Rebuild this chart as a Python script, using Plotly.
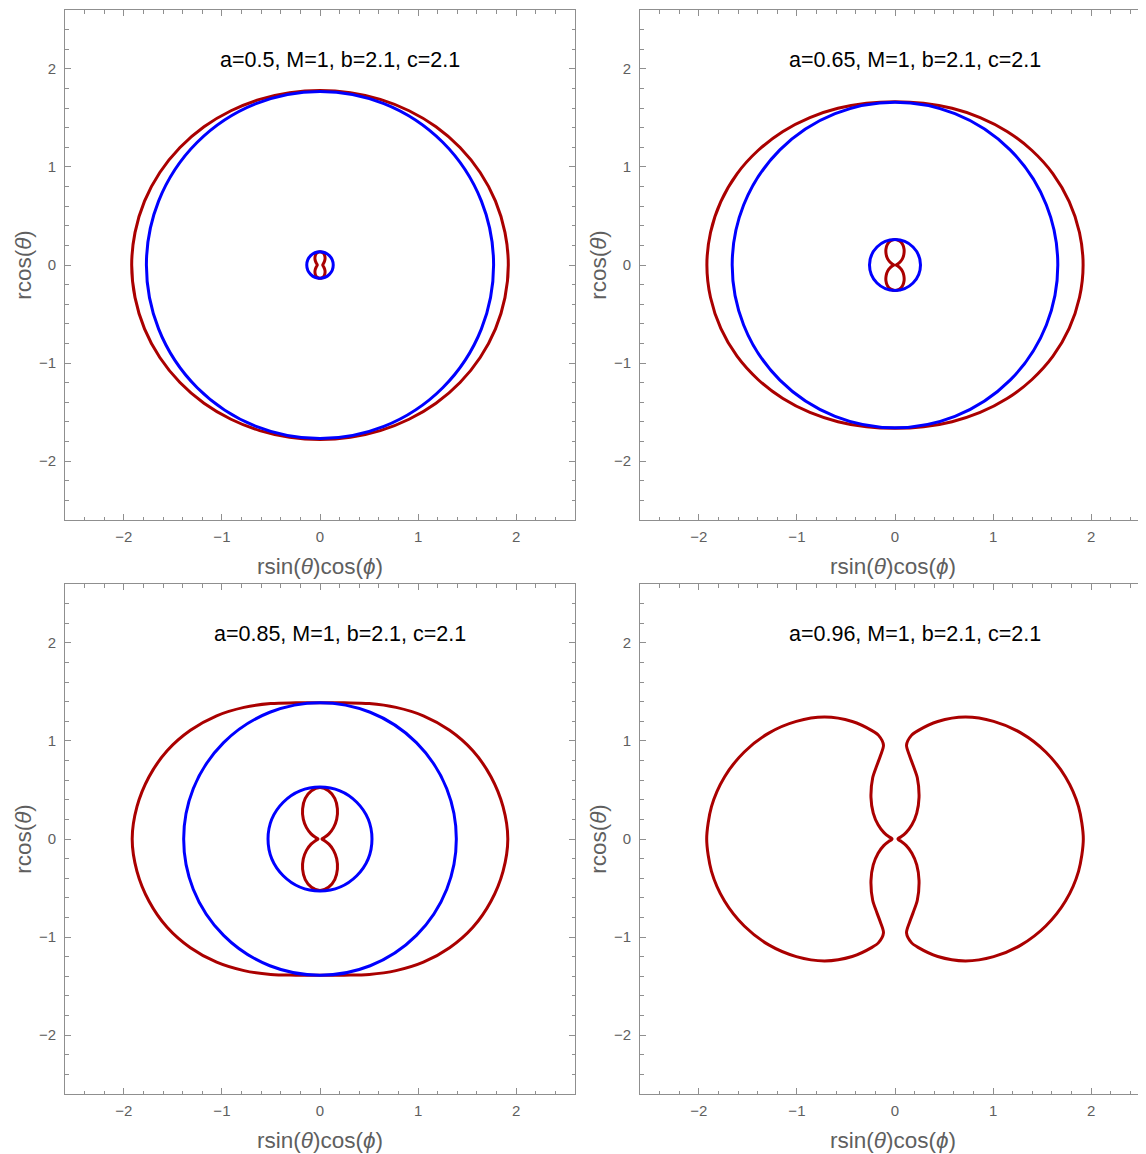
import numpy as np
import plotly.graph_objects as go

# ---------------- data ----------------
TITLES = ["a=0.5, M=1, b=2.1, c=2.1", "a=0.65, M=1, b=2.1, c=2.1",
          "a=0.85, M=1, b=2.1, c=2.1", "a=0.96, M=1, b=2.1, c=2.1"]

# polar angle theta (deg, measured from the +vertical axis), upper-right quadrant
THETA_DEG = [0, 10, 20, 30, 40, 50, 60, 70, 80, 90]

# ergosurface radii r(theta)
ERGO_OUTER_1 = [1.78, 1.784, 1.797, 1.816, 1.84, 1.864, 1.886, 1.904, 1.915, 1.92]
ERGO_INNER_1 = [0.135, 0.13, 0.12, 0.10, 0.08, 0.06, 0.045, 0.035, 0.03, 0.028]
ERGO_OUTER_2 = [1.665, 1.675, 1.70, 1.736, 1.778, 1.82, 1.86, 1.89, 1.91, 1.918]
ERGO_INNER_2 = [0.26, 0.25, 0.225, 0.185, 0.14, 0.10, 0.06, 0.03, 0.015, 0.01]
ERGO_OUTER_3 = [1.39, 1.41, 1.47, 1.55, 1.64, 1.725, 1.80, 1.855, 1.895, 1.915]
ERGO_INNER_3 = [0.525, 0.50, 0.44, 0.355, 0.265, 0.18, 0.105, 0.05, 0.025, 0.02]

# a=0.96: inner and outer sheets join near the pole
THETA_4_OUTER = [7, 9, 12, 20, 30, 40, 50, 60, 70, 80, 90]
ERGO_OUTER_4 = [0.965, 1.07, 1.13, 1.275, 1.435, 1.565, 1.68, 1.775, 1.85, 1.90, 1.92]
THETA_4_INNER = [7, 10, 14, 20, 30, 40, 50, 60, 70, 80, 90]
ERGO_INNER_4 = [0.965, 0.86, 0.77, 0.665, 0.49, 0.345, 0.225, 0.13, 0.065, 0.035, 0.03]

# horizon radii (outer, inner); None = no horizon
HORIZON_OUTER = [1.77, 1.66, 1.39, None]
HORIZON_INNER = [0.135, 0.26, 0.53, None]

AX_RANGE = [-2.6, 2.6]
TICKS = [-2, -1, 0, 1, 2]
TICK_TEXT = ["\u22122", "\u22121", "0", "1", "2"]

RED = "#AA0000"
BLUE = "#0000FF"
GRAY_LINE = "#8f8f8f"
GRAY_TEXT = "#5f5f5f"
FONT = "Liberation Sans, Arial, sans-serif"

# ---------------- helpers ----------------
def right_side(theta, r):
    """upper-right quadrant -> right half (theta 0..180)"""
    th = list(theta) + [180 - t for t in reversed(theta[:-1])]
    rr = list(r) + list(reversed(r[:-1]))
    th = np.radians(th)
    rr = np.array(rr)
    return rr * np.sin(th), rr * np.cos(th)

def closed_loop(theta, r):
    x, y = right_side(theta, r)
    xl, yl = -x[::-1], y[::-1]
    return np.concatenate([x, xl[1:]]), np.concatenate([y, yl[1:]])

def merged_side(th_out, r_out, th_in, r_in):
    xo, yo = right_side(th_out, r_out)
    xi, yi = right_side(th_in, r_in)
    x = np.concatenate([xo, xi[::-1][1:]])
    y = np.concatenate([yo, yi[::-1][1:]])
    return x, y

# ---------------- layout geometry ----------------
# page body has an 8px margin, so the figure is sized to fill the rest
W, H = 1138, 1146
px_per_unit = 510 / 5.2
col_left = [57, 632]
row_top = [2, 576]
plot_px = 510

fig = go.Figure()
layout = dict(width=W, height=H, margin=dict(l=0, r=0, t=0, b=0),
              paper_bgcolor="white", plot_bgcolor="white",
              showlegend=False, font=dict(family=FONT))

ergo_sets = [(ERGO_OUTER_1, ERGO_INNER_1), (ERGO_OUTER_2, ERGO_INNER_2),
             (ERGO_OUTER_3, ERGO_INNER_3), None]
shapes = []
annotations = []

for i in range(4):
    row, col = divmod(i, 2)
    n = "" if i == 0 else str(i + 1)
    xa, ya = "x" + n, "y" + n
    x0p = col_left[col]
    x1p = min(x0p + plot_px, W)
    xr_right = AX_RANGE[0] + (x1p - x0p) / px_per_unit
    y0p = row_top[row]
    y1p = y0p + plot_px

    axis_common = dict(
        showgrid=False, zeroline=False, showline=True, linecolor=GRAY_LINE,
        linewidth=1, mirror="ticks", ticks="inside", ticklen=6, tickwidth=1,
        tickcolor=GRAY_LINE, tickvals=TICKS, ticktext=TICK_TEXT,
        tickfont=dict(size=15, color=GRAY_TEXT, family=FONT),
        minor=dict(ticks="inside", ticklen=3.5, dtick=0.2, tickcolor=GRAY_LINE, tickwidth=1),
    )
    layout["xaxis" + n] = dict(
        axis_common, domain=[x0p / W, x1p / W], range=[AX_RANGE[0], xr_right],
        anchor=ya, ticklabelstandoff=3,
        title=dict(text="rsin(<i>θ</i>)cos(<i>ϕ</i>)", standoff=14,
                   font=dict(size=22.5, color=GRAY_TEXT, family=FONT)),
    )
    layout["yaxis" + n] = dict(
        axis_common, domain=[1 - y1p / H, 1 - y0p / H], range=AX_RANGE,
        anchor=xa, ticklabelstandoff=5,
        title=dict(text="rcos(<i>θ</i>)", standoff=1,
                   font=dict(size=22.5, color=GRAY_TEXT, family=FONT)),
    )

    # ergosurfaces
    if ergo_sets[i] is not None:
        for r_list in ergo_sets[i]:
            x, y = closed_loop(THETA_DEG, r_list)
            fig.add_trace(go.Scatter(x=x, y=y, mode="lines", xaxis=xa, yaxis=ya,
                                     line=dict(color=RED, width=3, shape="spline", smoothing=1.0),
                                     hoverinfo="skip"))
    else:
        x, y = merged_side(THETA_4_OUTER, ERGO_OUTER_4, THETA_4_INNER, ERGO_INNER_4)
        for sgn in (1, -1):
            fig.add_trace(go.Scatter(x=sgn * x, y=y, mode="lines", xaxis=xa, yaxis=ya,
                                     line=dict(color=RED, width=3, shape="spline", smoothing=0.8),
                                     hoverinfo="skip"))

    # horizons
    for r in (HORIZON_OUTER[i], HORIZON_INNER[i]):
        if r is not None:
            shapes.append(dict(type="circle", xref=xa, yref=ya, x0=-r, x1=r, y0=-r, y1=r,
                               line=dict(color=BLUE, width=3), layer="above"))

    # panel label
    annotations.append(dict(text=TITLES[i], xref=xa + " domain", yref=ya + " domain",
                            x=(339.5 - 65) / 510 if col == 0 else (914.5 - 640) / 506,
                            y=(510 - 50) / 510, showarrow=False,
                            xanchor="center", yanchor="middle",
                            font=dict(size=21.5, color="black", family=FONT)))

layout["shapes"] = shapes
layout["annotations"] = annotations
fig.update_layout(**layout)
fig.write_html("out.html")
